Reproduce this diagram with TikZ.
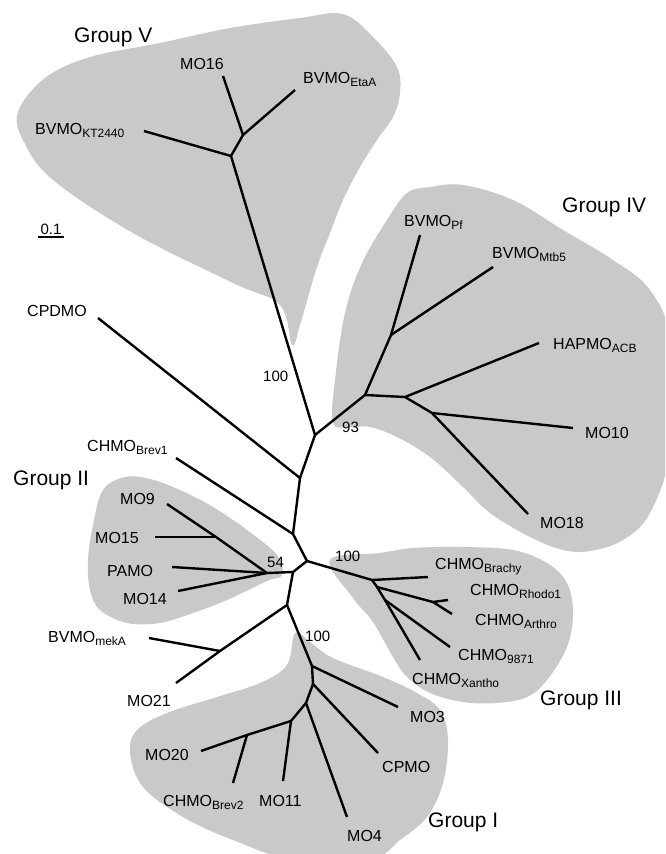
\documentclass[tikz,border=0pt]{standalone}
\usepackage{fontspec}
\setmainfont{Liberation Sans}
\usetikzlibrary{calc}
\newcommand{\lowsub}[1]{\raisebox{-3.5pt}{\fontsize{12pt}{12pt}\selectfont #1}}

\begin{document}
\begin{tikzpicture}[x=1pt,y=-1pt,
    branch/.style={line width=2.4pt,line join=round},
    grp/.style={fill=black!21,draw=none},
    leaf/.style={anchor=base west,inner sep=0pt,font=\fontsize{16pt}{18pt}\selectfont},
    boot/.style={anchor=base west,inner sep=0pt,font=\fontsize{15pt}{17pt}\selectfont},
    grplabel/.style={anchor=base west,inner sep=0pt,font=\fontsize{21pt}{24pt}\selectfont}]
   \useasboundingbox (0,0) rectangle (665,854);
   \clip (0,0) rectangle (665,854);
   % shaded groups
   \fill[grp] plot[smooth cycle,tension=0.6] coordinates {(18,112) (45,78) (90,57) (160,43) (230,28) (300,18) (343,14) (373,37) (397,67) (400,93) (393,117) (377,140) (360,167) (343,200) (330,233) (316,270) (300,325) (292,345) (280,305) (233,283) (133,233) (53,180) (24,142)};
   \fill[grp] plot[smooth cycle,tension=0.6] coordinates {(387,220) (407,193) (430,187) (463,185) (513,200) (563,230) (613,260) (650,290) (670,340) (670,450) (650,513) (623,540) (590,551) (563,550) (530,537) (490,513) (463,487) (430,457) (397,437) (370,427) (350,427) (333,423) (335,380) (345,313) (362,263)};
   \fill[grp] plot[smooth cycle,tension=0.6] coordinates {(88,560) (93,525) (103,490) (125,477) (150,479) (180,490) (213,507) (247,530) (277,555) (282,575) (267,581) (227,600) (193,613) (160,623) (127,623) (100,610) (90,590)};
   \fill[grp] plot[smooth cycle,tension=0.6] coordinates {(330,560) (380,553) (413,548) (463,547) (513,550) (547,563) (567,583) (573,613) (567,647) (547,680) (527,697) (497,703) (463,702) (430,693) (407,677) (393,657) (373,622) (353,598)};
   \fill[grp] plot[smooth cycle,tension=0.6] coordinates {(295,633) (310,642) (333,658) (383,677) (417,693) (440,710) (448,740) (443,783) (427,817) (400,840) (373,858) (300,862) (233,840) (183,817) (143,787) (130,753) (137,730) (167,713) (217,697) (260,683) (287,665)};
   % tree points
   \foreach \n/\x/\y in {a/315/435, v1/231/156, v2/243/135, tMOa/223/76, tEtaA/295/90, tKT/144/131,
       b/365/395, c/391/335, tPf/420/235, tMtb/493/267, d/405/397, tHAPMO/539/343, e/432/413, tMOb/573/428, tMOc/528/514,
       f/300/478, tCPDMO/98/318, g/293/534, tBrevA/176/458, h/307/561,
       j/293/572, k/267/573, m/216/537, tMOd/167/504, tMOe/155/537, tPAMO/172/567, tMOf/178/591,
       l/287/605, n/220/651, tmekA/149/638, tMOg/176/683,
       o/312/666, tMOh/398/707, p/313/684, tCPMO/378/753, q/306/703, tMOi/347/817, r/291/721, tMOj/283/781,
       s/247/735, tMOk/201/751, tBrevB/233/783,
       t/372/580, tBrachy/428/577, u/377/587, v/433/602, tRhodo/448/600, tArthro/452/614, w/385/600, tNine/450/647, tXantho/420/660}
     \coordinate (\n) at (\x,\y);
   % branches
   \draw[branch] (a) -- (v1) -- (v2) -- (tMOa);
   \draw[branch] (v2) -- (tEtaA);
   \draw[branch] (v1) -- (tKT);
   \draw[branch] (a) -- (b) -- (c) -- (tPf);
   \draw[branch] (c) -- (tMtb);
   \draw[branch] (b) -- (d) -- (tHAPMO);
   \draw[branch] (d) -- (e) -- (tMOb);
   \draw[branch] (e) -- (tMOc);
   \draw[branch] (a) -- (f) -- (tCPDMO);
   \draw[branch] (f) -- (g) -- (tBrevA);
   \draw[branch] (g) -- (h) -- (j) -- (k) -- (m) -- (tMOd);
   \draw[branch] (m) -- (tMOe);
   \draw[branch] (k) -- (tPAMO);
   \draw[branch] (k) -- (tMOf);
   \draw[branch] (j) -- (l) -- (n) -- (tMOg);
   \draw[branch] (n) -- (tmekA);
   \draw[branch] (l) -- (o) -- (tMOh);
   \draw[branch] (o) -- (p) -- (tCPMO);
   \draw[branch] (p) -- (q) -- (tMOi);
   \draw[branch] (q) -- (r) -- (tMOj);
   \draw[branch] (r) -- (s) -- (tMOk);
   \draw[branch] (s) -- (tBrevB);
   \draw[branch] (h) -- (t) -- (tBrachy);
   \draw[branch] (t) -- (u) -- (v) -- (tRhodo);
   \draw[branch] (v) -- (tArthro);
   \draw[branch] (u) -- (w) -- (tNine);
   \draw[branch] (w) -- (tXantho);
   % scale bar
   \coordinate (sbl) at (38,237);
   \coordinate (sbr) at (64,237);
   \draw[branch] (sbl) -- (sbr);
   \node[anchor=south,inner sep=2pt,font=\fontsize{15pt}{17pt}\selectfont] (sbtext) at ($(sbl)!0.5!(sbr)$) {0.1};
   % group names
   \node[grplabel] (gV) at (74,42) {Group V};
   \node[grplabel] (gIV) at (562,212) {Group IV};
   \node[grplabel] (gII) at (13,485) {Group II};
   \node[grplabel] (gIII) at (540,705) {Group III};
   \node[grplabel] (gI) at (428,827) {Group I};
   % leaves
   \node[leaf] (lMOa) at (180,69) {MO16};
   \node[leaf] (lEtaA) at (303,83) {BVMO\lowsub{EtaA}};
   \node[leaf] (lKT) at (35,134) {BVMO\lowsub{KT2440}};
   \node[leaf] (lPf) at (404,226) {BVMO\lowsub{Pf}};
   \node[leaf] (lMtb) at (492,258) {BVMO\lowsub{Mtb5}};
   \node[leaf] (lHAPMO) at (553,349) {HAPMO\lowsub{ACB}};
   \node[leaf] (lMOb) at (585,438) {MO10};
   \node[leaf] (lMOc) at (540,528) {MO18};
   \node[leaf] (lCPDMO) at (27,316) {CPDMO};
   \node[leaf] (lBrevA) at (87,451) {CHMO\lowsub{Brev1}};
   \node[leaf] (lMOd) at (120,504) {MO9};
   \node[leaf] (lMOe) at (95,543) {MO15};
   \node[leaf] (lPAMO) at (107,576) {PAMO};
   \node[leaf] (lMOf) at (123,604) {MO14};
   \node[leaf] (lmekA) at (48,642) {BVMO\lowsub{mekA}};
   \node[leaf] (lMOg) at (127,706) {MO21};
   \node[leaf] (lMOh) at (410,722) {MO3};
   \node[leaf] (lCPMO) at (382,772) {CPMO};
   \node[leaf] (lMOi) at (347,841) {MO4};
   \node[leaf] (lMOj) at (259,806) {MO11};
   \node[leaf] (lBrevB) at (163,806) {CHMO\lowsub{Brev2}};
   \node[leaf] (lMOk) at (145,760) {MO20};
   \node[leaf] (lBrachy) at (435,569) {CHMO\lowsub{Brachy}};
   \node[leaf] (lRhodo) at (470,595) {CHMO\lowsub{Rhodo1}};
   \node[leaf] (lArthro) at (475,625) {CHMO\lowsub{Arthro}};
   \node[leaf] (lNine) at (458,660) {CHMO\lowsub{9871}};
   \node[leaf] (lXantho) at (412,684) {CHMO\lowsub{Xantho}};
   % bootstrap values
   \node[boot] (bV) at (263,381) {100};
   \node[boot] (bIV) at (342,432) {93};
   \node[boot] (bII) at (267,567) {54};
   \node[boot] (bIII) at (335,561) {100};
   \node[boot] (bI) at (305,641) {100};
\end{tikzpicture}
\end{document}
